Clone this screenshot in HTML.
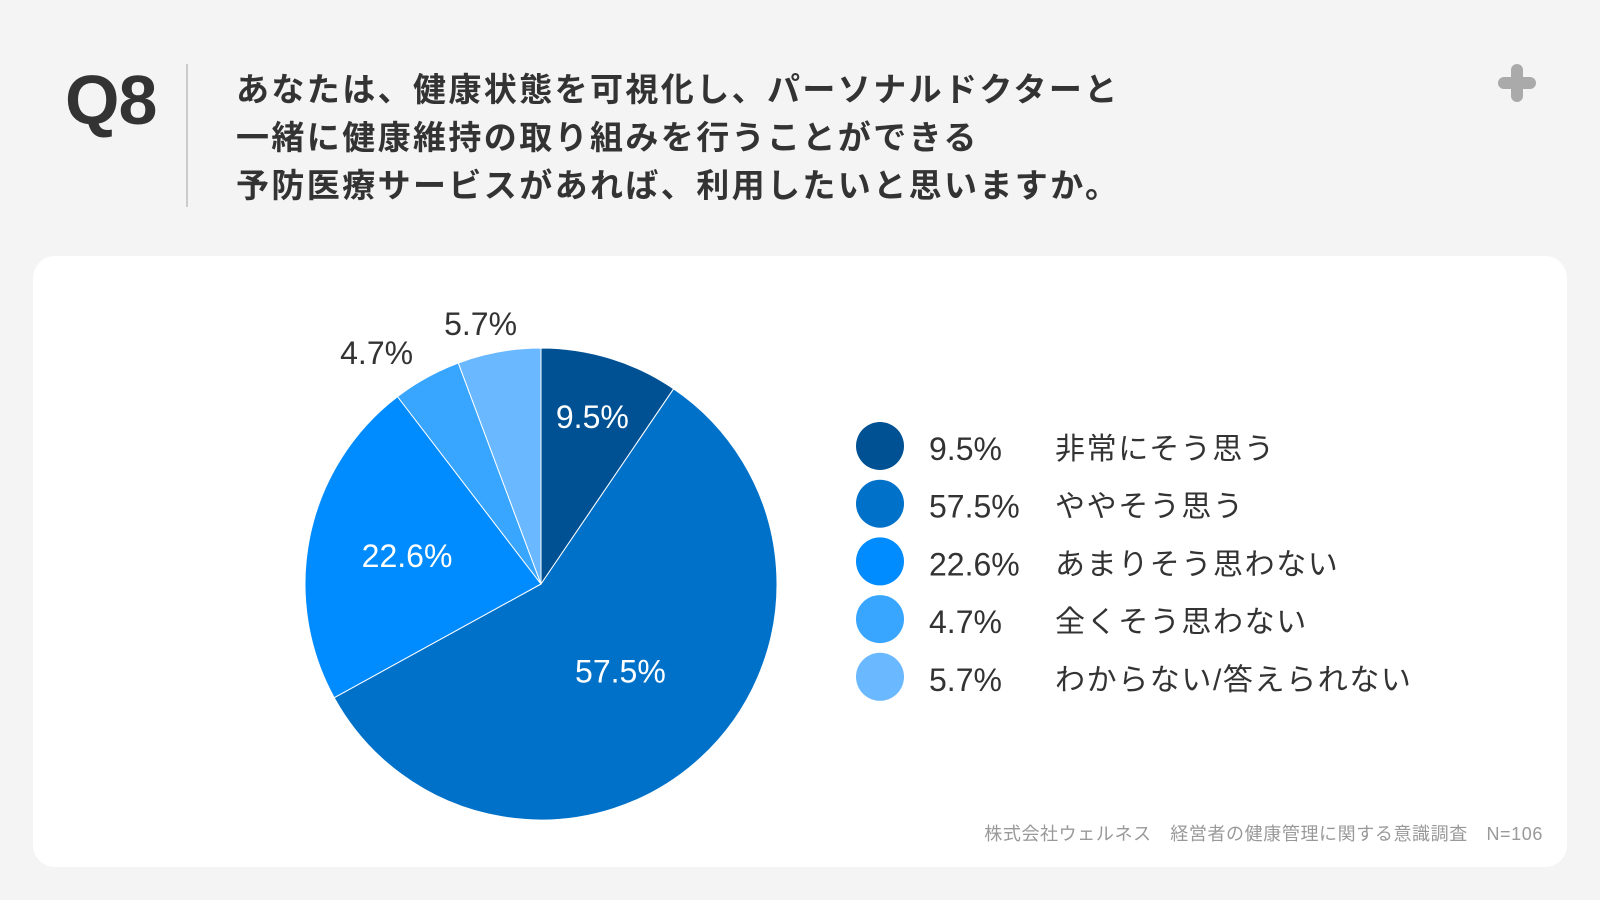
<!DOCTYPE html>
<html><head><meta charset="utf-8">
<style>
body{margin:0;width:1600px;height:900px;background:#f4f4f4;font-family:"Liberation Sans","Noto Sans CJK JP",sans-serif;position:relative;overflow:hidden;color:#333}
.abs{position:absolute}
</style></head>
<body>
<div class="abs" style="left:65px;top:60px;font-size:70px;font-weight:bold;color:#333;letter-spacing:-1px">Q8</div>
<div class="abs" style="left:186px;top:64px;width:2px;height:143px;background:#ccc"></div>
<div class="abs" style="left:236px;top:66px;font-size:33px;font-weight:bold;line-height:48px;color:#333;white-space:nowrap;letter-spacing:2.4px">あなたは、健康状態を可視化し、パーソナルドクターと<br>一緒に健康維持の取り組みを行うことができる<br>予防医療サービスがあれば、利用したいと思いますか。</div>
<svg class="abs" style="left:1497px;top:63px" width="40" height="40" viewBox="0 0 40 40"><path d="M14 7a6 6 0 0 1 12 0v7h7a6 6 0 0 1 0 12h-7v7a6 6 0 0 1-12 0v-7H7a6 6 0 0 1 0-12h7z" fill="#aaa"/></svg>
<div class="abs" style="left:33px;top:256px;width:1534px;height:611px;background:#fff;border-radius:22px"></div>
<svg class="abs" id="chart" style="left:0;top:0" width="1600" height="900"></svg>
<div class="abs" style="right:57px;top:820px;font-size:18px;color:#999;white-space:nowrap;letter-spacing:0.6px">株式会社ウェルネス　経営者の健康管理に関する意識調査　N=106</div>
<script>
const categories=["非常にそう思う","ややそう思う","あまりそう思わない","全くそう思わない","わからない/答えられない"];
const values=[9.5,57.5,22.6,4.7,5.7];
const labels=["9.5%","57.5%","22.6%","4.7%","5.7%"];
const colors=["#005193","#0071c9","#008bff","#38a5ff","#6ab8ff"];
const NS="http://www.w3.org/2000/svg";
const svg=document.getElementById('chart');
const cx=541,cy=584,r=236;
const FONT='"Liberation Sans","Noto Sans CJK JP",sans-serif';
const total=values.reduce((a,b)=>a+b,0);
function pt(a,rr){return [cx+rr*Math.sin(a),cy-rr*Math.cos(a)];}
let acc=0;
values.forEach((v,i)=>{
  const a0=acc/total*2*Math.PI;acc+=v;const a1=acc/total*2*Math.PI;
  const p0=pt(a0,r),p1=pt(a1,r);
  const path=document.createElementNS(NS,'path');
  path.setAttribute('d',`M${cx},${cy}L${p0[0]},${p0[1]}A${r},${r} 0 ${a1-a0>Math.PI?1:0} 1 ${p1[0]},${p1[1]}Z`);
  path.setAttribute('fill',colors[i]);
  path.setAttribute('stroke','#fff');path.setAttribute('stroke-width','1');
  
  
  svg.appendChild(path);
  const am=(a0+a1)/2;const share=v/total;const small=share<0.08;
  const frac=small?1.12:(share<0.15?0.74:(share>0.5?0.5:0.58));
  const lp=pt(am,r*frac);
  const xo=small?Math.sin(am)*75:0;
  const t=document.createElementNS(NS,'text');
  t.setAttribute('x',lp[0]+xo);t.setAttribute('y',lp[1]+11);
  t.setAttribute('text-anchor','middle');t.setAttribute('font-size','32');
  t.setAttribute('font-family',FONT);
  t.setAttribute('fill',small?'#333':'#fff');
  t.textContent=labels[i];
  
  
  svg.appendChild(t);
  const ly=446+i*57.7;
  const c=document.createElementNS(NS,'circle');
  c.setAttribute('cx',880);c.setAttribute('cy',ly);c.setAttribute('r',24);c.setAttribute('fill',colors[i]);
  
  
  svg.appendChild(c);
  const lt=document.createElementNS(NS,'text');
  lt.setAttribute('x',929);lt.setAttribute('y',ly+14);lt.setAttribute('font-size','32');lt.setAttribute('fill','#333');
  lt.setAttribute('font-family',FONT);
  lt.textContent=labels[i];
  
  
  svg.appendChild(lt);
  const lc=document.createElementNS(NS,'text');
  lc.setAttribute('x',1055);lc.setAttribute('y',ly+13);lc.setAttribute('font-size','30');lc.setAttribute('fill','#333');
  lc.setAttribute('letter-spacing','1.6');
  lc.setAttribute('font-family',FONT);
  lc.textContent=categories[i];
  
  
  svg.appendChild(lc);
});
</script>
</body></html>
